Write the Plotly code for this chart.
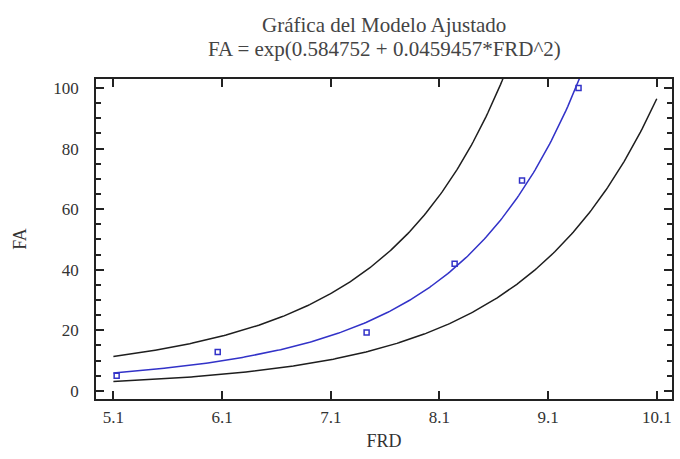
import numpy as np
import plotly.graph_objects as go

# Observed data
frd = [5.13, 6.06, 7.43, 8.24, 8.86, 9.38]
fa = [5.0, 12.8, 19.3, 42.0, 69.5, 100.0]

# Fitted model: FA = exp(a + b*FRD^2)
a = 0.584752
b = 0.0459457
t_95 = 2.776  # Student t, 0.975 quantile, n-2 = 4 df

x_ticks = [5.1, 6.1, 7.1, 8.1, 9.1, 10.1]
y_ticks = [0, 20, 40, 60, 80, 100]

title_lines = ["Gráfica del Modelo Ajustado",
               "FA = exp(0.584752 + 0.0459457*FRD^2)"]

# 95% prediction limits, computed in log scale
u = np.array(frd) ** 2
resid = np.log(fa) - (a + b * u)
n = len(frd)
s = np.sqrt(np.sum(resid ** 2) / (n - 2))
u_mean = u.mean()
suu = np.sum((u - u_mean) ** 2)

xs = np.linspace(5.1, 10.1, 300)
us = xs ** 2
fit_log = a + b * us
half = t_95 * s * np.sqrt(1 + 1 / n + (us - u_mean) ** 2 / suu)
fit = np.exp(fit_log)
upper = np.exp(fit_log + half)
lower = np.exp(fit_log - half)

font_family = "Liberation Serif, DejaVu Serif, serif"
band_color = "#1e1e1e"
blue = "#3232c8"
text_color = "#333"

fig = go.Figure()
fig.add_trace(go.Scatter(x=xs, y=upper, mode="lines",
                         line=dict(color=band_color, width=1.5), hoverinfo="skip"))
fig.add_trace(go.Scatter(x=xs, y=lower, mode="lines",
                         line=dict(color=band_color, width=1.5), hoverinfo="skip"))
fig.add_trace(go.Scatter(x=xs, y=fit, mode="lines",
                         line=dict(color=blue, width=1.5), hoverinfo="skip"))
fig.add_trace(go.Scatter(x=frd, y=fa, mode="markers",
                         marker=dict(symbol="square-open", size=5, color=blue,
                                     line=dict(width=1.5, color=blue)),
                         cliponaxis=False))

axis_common = dict(
    showgrid=False, zeroline=False, showline=True, linecolor="#222",
    linewidth=1.5, mirror="allticks", ticks="inside", ticklen=8,
    tickcolor="#222", tickwidth=1.5,
    tickfont=dict(family=font_family, size=17, color=text_color),
)

fig.update_xaxes(range=[4.94, 10.24], tickvals=x_ticks,
                 ticktext=[f"{v:.1f}" for v in x_ticks],
                 ticklabelstandoff=2,
                 title=dict(text="FRD", font=dict(family=font_family, size=18, color=text_color),
                            standoff=8),
                 **axis_common)
fig.update_yaxes(range=[-2.7, 103], tickvals=y_ticks,
                 ticklabelstandoff=12,
                 minor=dict(dtick=5, tick0=0, ticks="inside", ticklen=5, tickcolor="#222",
                            tickwidth=1.5, showgrid=False),
                 title=dict(text="FA", font=dict(family=font_family, size=18, color=text_color),
                            standoff=22),
                 **axis_common)

for line, ypos in zip(title_lines, [1.17, 1.093]):
    fig.add_annotation(text=line, x=0.5, y=ypos, xref="paper", yref="paper",
                       xanchor="center", yanchor="middle", showarrow=False,
                       font=dict(family=font_family, size=21, color="#444"))

fig.update_layout(
    width=680, height=459,
    margin=dict(l=96, r=6, t=79, b=60),
    paper_bgcolor="white", plot_bgcolor="white",
    showlegend=False,
)

fig.write_html("out.html")
